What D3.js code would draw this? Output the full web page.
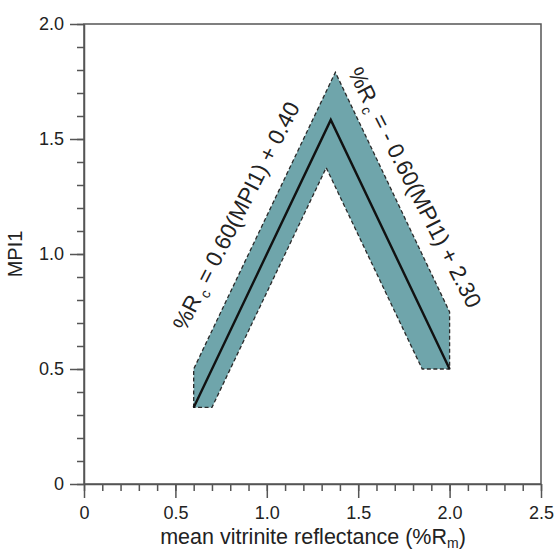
<!DOCTYPE html>
<html>
<head>
<meta charset="utf-8">
<script src="https://cdn.jsdelivr.net/npm/d3@7"></script>
<style>
  body { margin: 0; background: #fff; }
  text { font-family: "Liberation Sans", Arial, sans-serif; fill: #222; }
</style>
</head>
<body>
<div id="chart"></div>
<script>
// data
const xTicks = [0, 0.5, 1.0, 1.5, 2.0, 2.5];
const yTicks = [0, 0.5, 1.0, 1.5, 2.0];
// centre line (%Rc, MPI1)
const lineRc  = [0.6, 1.35, 2.0];
const lineMPI = [0.333, 1.583, 0.5];
// shaded band outline
const bandRc  = [0.6, 0.6, 1.375, 2.0, 2.0, 1.85, 1.325, 0.7];
const bandMPI = [0.333, 0.5, 1.79, 0.748, 0.5, 0.5, 1.375, 0.333];

var margin = {top: 24, right: 15, bottom: 67, left: 84},
  width = 556 - margin.left - margin.right,
  height = 551 - margin.top - margin.bottom;

var svg = d3.select("#chart")
  .append("svg")
    .attr("width", 556)
    .attr("height", 551)
  .append("g")
    .attr("transform", "translate(" + margin.left + "," + margin.top + ")");

var x = d3.scaleLinear().domain([0, 2.5]).range([0, width]);
var y = d3.scaleLinear().domain([0, 2.0]).range([height, 0]);

var fmt = function(d) { return d === 0 ? "0" : d3.format(".1f")(d); };

var line = d3.line()
  .x(function(d) { return x(d[0]); })
  .y(function(d) { return y(d[1]); });

// band
var band = bandRc.map(function(r, i) { return [r, bandMPI[i]]; });
svg.append("path")
  .attr("fill", "#6fa5ab")
  .attr("stroke", "#2a2a2a")
  .attr("stroke-width", 1.3)
  .attr("stroke-dasharray", "4,2.5")
  .attr("d", line(band) + "Z");

// centre line
var centre = lineRc.map(function(r, i) { return [r, lineMPI[i]]; });
svg.append("path")
  .attr("fill", "none")
  .attr("stroke", "#111")
  .attr("stroke-width", 2.4)
  .attr("d", line(centre));

// frame
svg.append("rect")
  .attr("width", width)
  .attr("height", height)
  .attr("fill", "none")
  .attr("stroke", "#555")
  .attr("stroke-width", 1.5);

// minor ticks
svg.append("g")
  .attr("transform", "translate(0," + height + ")")
  .call(d3.axisBottom(x).tickValues(d3.range(0, 2.51, 0.1)).tickSize(7).tickFormat(""))
  .call(function(g) { g.select(".domain").remove(); });
svg.append("g")
  .call(d3.axisLeft(y).tickValues(d3.range(0, 2.01, 0.1)).tickSize(7).tickFormat(""))
  .call(function(g) { g.select(".domain").remove(); });

// major ticks
svg.append("g")
  .attr("transform", "translate(0," + height + ")")
  .call(d3.axisBottom(x).tickValues(xTicks).tickSize(14).tickSizeOuter(0).tickPadding(8).tickFormat(fmt));
svg.append("g")
  .call(d3.axisLeft(y).tickValues(yTicks).tickSize(14).tickSizeOuter(0).tickPadding(6).tickFormat(fmt));

svg.selectAll(".tick line").attr("stroke", "#555").attr("stroke-width", 1.5);
svg.selectAll(".domain").attr("stroke", "#555").attr("stroke-width", 1.5);
svg.selectAll(".tick text")
  .style("font-family", "Liberation Sans, Arial, sans-serif")
  .style("font-size", "18px")
  .attr("fill", "#222");

// axis titles
var xt = svg.append("text")
  .attr("x", 229)
  .attr("y", height + 60)
  .attr("text-anchor", "middle")
  .style("font-size", "21.5px");
xt.append("tspan").text("mean vitrinite reflectance (%R");
xt.append("tspan").attr("dy", 4).style("font-size", "14px").text("m");
xt.append("tspan").attr("dy", -4).text(")");

svg.append("text")
  .attr("transform", "translate(" + (-62) + "," + (height / 2) + ")rotate(-90)")
  .attr("text-anchor", "middle")
  .style("font-size", "20px")
  .text("MPI1");

// equation labels
function eqLabel(px, py, angle, rest) {
  var t = svg.append("text")
    .attr("transform", "translate(" + px + "," + py + ")rotate(" + angle + ")")
    .attr("text-anchor", "middle")
    .style("font-size", "22.5px");
  t.append("tspan").text("%R");
  t.append("tspan").attr("dy", 5).attr("dx", 3).style("font-size", "14px").text("c");
  t.append("tspan").attr("dy", -5).text(rest);
}
eqLabel(x(0.87), y(1.15), -63, " = 0.60(MPI1) + 0.40");
eqLabel(x(1.772), y(1.274), 63, " = - 0.60(MPI1) + 2.30");
</script>
</body>
</html>
